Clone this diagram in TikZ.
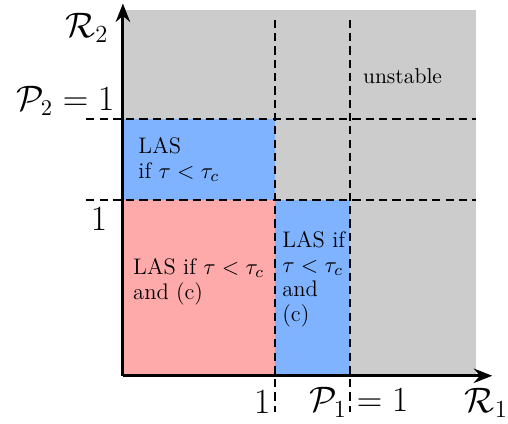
\documentclass[tikz,border=0pt]{standalone}
\usepackage{tikz}
\usetikzlibrary{arrows.meta}
\definecolor{unstgray}{RGB}{204,204,204}
\definecolor{lasblue}{RGB}{128,179,255}
\definecolor{lasred}{RGB}{255,170,170}

\begin{document}
\begin{tikzpicture}[
  font=\normalsize,
  axis/.style={-{Stealth[length=9pt,width=7pt]},line width=1.5pt},
  bound/.style={line width=1pt,dash pattern=on 4pt off 2.5pt},
  region/.style={align=left,inner sep=0pt,anchor=north west,font=\fontsize{11}{12}\selectfont},
  tick/.style={font=\fontsize{18}{21}\selectfont,inner sep=0pt},
]
\useasboundingbox (-2.11,-0.82) rectangle (6.61,6.45);
% ---- regions ----
\fill[unstgray] (0,0) rectangle (6.06,6.28);
\fill[lasblue] (0,3.02) rectangle (2.61,4.41);
\fill[lasred] (0,0) rectangle (2.61,3.02);
\fill[lasblue] (2.61,0) rectangle (3.90,3.02);

% ---- boundaries ----
\draw[bound] (-0.63,4.41) -- (6.06,4.41);
\draw[bound] (-0.63,3.02) -- (6.06,3.02);
\draw[bound] (2.61,6.11) -- (2.61,-0.63);
\draw[bound] (3.90,6.11) -- (3.90,-0.63);

% ---- axes ----
\coordinate (O) at (0,0);
\coordinate (xend) at (6.34,0);
\coordinate (yend) at (0,6.39);
\draw[axis] (O) -- (xend);
\draw[axis] (O) -- (yend);

% ---- labels ----
\node[tick] (R2) at (-0.62,5.97) {$\mathcal{R}_2$};
\node[tick,font=\fontsize{16}{19}\selectfont] (P2) at (-0.99,4.72) {$\mathcal{P}_2=1$};
\node[tick] (one2) at (-0.41,2.69) {$1$};
\node[tick] (one1) at (2.39,-0.45) {$1$};
\node[tick] (P1) at (4.05,-0.46) {$\mathcal{P}_1=1$};
\node[tick] (R1) at (6.24,-0.47) {$\mathcal{R}_1$};

\node[font=\fontsize{10.5}{12}\selectfont] (unst) at (4.80,5.15) {unstable};
\node[region] (las2) at (0.26,4.09) {LAS\\if $\tau<\tau_c$};
\node[region] (las12) at (0.17,2.02) {LAS if $\tau<\tau_c$\\and (c)};
\node[region] (las1) at (2.73,2.48) {LAS if\\$\tau<\tau_c$\\and\\(c)};
\end{tikzpicture}
\end{document}
